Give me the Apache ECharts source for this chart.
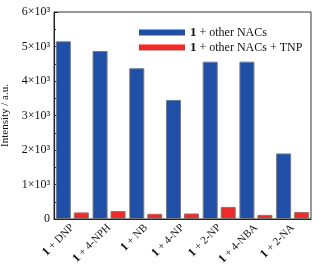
<!DOCTYPE html>
<html>
<head>
<meta charset="utf-8">
<script src="https://cdn.jsdelivr.net/npm/echarts@6/dist/echarts.min.js"></script>
<style>
html,body{margin:0;padding:0;background:#fff;}
#main{width:324px;height:275px;}
</style>
</head>
<body>
<div id="main"></div>
<script>
// 数据
var analytes = ['DNP', '4-NPH', 'NB', '4-NP', '2-NP', '4-NBA', '2-NA'];
var withNACs = [5150, 4870, 4370, 3450, 4560, 4560, 1900];
var withTNP = [190, 230, 150, 160, 350, 120, 200];
var yTicks = [0, 1000, 2000, 3000, 4000, 5000, 6000];
var seriesNames = ['1 + other NACs', '1 + other NACs + TNP'];

var serif = '"Liberation Serif", "DejaVu Serif", serif';
var sup = ['', '¹', '²', '³'];

// 每个柱子中心一个刻度
var tickSlots = [];
analytes.forEach(function (a) { tickSlots.push(a + 'a'); tickSlots.push(a + 'b'); });

var myChart = echarts.init(document.getElementById('main'));
var option = {
    animation: false,
    textStyle: {fontFamily: serif},
    grid: {
        left: 54, right: 13, top: 12, bottom: 56,
        outerBoundsMode: 'none',
        show: true, borderColor: '#333', borderWidth: 1
    },
    legend: {
        data: seriesNames,
        orient: 'vertical',
        left: 134,
        top: 20,
        itemWidth: 46,
        itemHeight: 6,
        itemGap: 0,
        icon: 'rect',
        itemStyle: {borderWidth: 0},
        formatter: function (n) {
            return '{b|1}' + n.slice(1);
        },
        textStyle: {
            fontFamily: serif, fontSize: 12, color: '#111', lineHeight: 15,
            rich: {b: {fontFamily: serif, fontSize: 13, fontWeight: 'bold', color: '#111', lineHeight: 15}}
        }
    },
    xAxis: [{
        type: 'category',
        data: analytes,
        axisLine: {lineStyle: {color: '#222'}},
        axisTick: {show: false},
        axisLabel: {
            rotate: 45,
            margin: 7,
            interval: 0,
            formatter: function (v) { return '{b|1} + ' + v; },
            fontFamily: serif, fontSize: 11, color: '#111',
            rich: {b: {fontFamily: serif, fontSize: 12, fontWeight: 'bold', color: '#111'}}
        }
    }, {
        type: 'category',
        data: tickSlots,
        position: 'bottom',
        axisLine: {show: false},
        axisLabel: {show: false},
        axisTick: {show: true, inside: true, alignWithLabel: true, length: 4, lineStyle: {color: '#222'}}
    }],
    yAxis: {
        type: 'value',
        min: yTicks[0],
        max: yTicks[yTicks.length - 1],
        interval: 1000,
        name: 'Intensity / a.u.',
        nameLocation: 'middle',
        nameGap: 33,
        nameTextStyle: {fontFamily: serif, fontSize: 11, color: '#111'},
        axisLine: {show: true, lineStyle: {color: '#222'}},
        axisTick: {show: true, inside: true, length: 4, lineStyle: {color: '#222'}},
        minorTick: {show: true, splitNumber: 2, length: 2, lineStyle: {color: '#222'}},
        splitLine: {show: false},
        axisLabel: {
            fontFamily: serif, fontSize: 12, color: '#111', margin: 4,
            formatter: function (v) {
                if (v === 0) return '0';
                return (v / 1000) + '×10' + sup[3];
            }
        }
    },
    series: [{
        name: seriesNames[0],
        type: 'bar',
        data: withNACs,
        barGap: '20%',
        barCategoryGap: '10%',
        itemStyle: {color: '#1f4fa6', borderColor: '#7a7a7a', borderWidth: 1}
    }, {
        name: seriesNames[1],
        type: 'bar',
        data: withTNP,
        itemStyle: {color: '#ee2b2b', borderColor: '#7a7a7a', borderWidth: 1}
    }]
};
myChart.setOption(option);
</script>
</body>
</html>
